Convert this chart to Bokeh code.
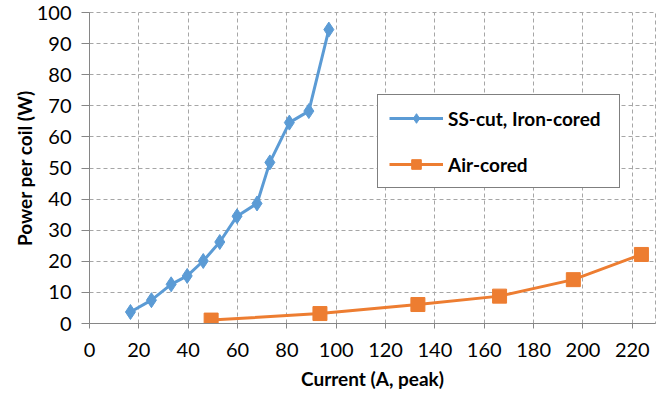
from bokeh.plotting import figure
from bokeh.models import Range1d, FixedTicker, Legend, LegendItem
from bokeh.embed import file_html
from bokeh.resources import INLINE

# Data
iron_x = [16.6, 25.1, 33.1, 39.6, 46.1, 52.8, 59.8, 67.9, 73.1, 81.0, 88.9, 97.0]
iron_y = [3.7, 7.5, 12.6, 15.3, 20.1, 26.2, 34.5, 38.6, 51.8, 64.6, 68.3, 94.5]
air_x = [49.3, 93.4, 133.1, 166.2, 196.1, 223.7]
air_y = [1.1, 3.2, 6.1, 8.8, 14.1, 22.2]
x_ticks = list(range(0, 221, 20))
y_ticks = list(range(0, 101, 10))
series_names = ["SS-cut, Iron-cored", "Air-cored"]

BLUE = "#5B9BD5"
ORANGE = "#ED7D31"
FONT = "Lato"

p = figure(width=656, height=392, output_backend="svg", toolbar_location=None,
           x_range=Range1d(0, 229.4), y_range=Range1d(0, 100),
           min_border_left=89, min_border_right=1, min_border_top=12, min_border_bottom=69)

p.outline_line_color = "#a6a6a6"
p.outline_line_dash = "4 3"

for ax in (p.xaxis[0], p.yaxis[0]):
    ax.axis_line_color = "#868686"
    ax.major_tick_line_color = "#868686"
    ax.minor_tick_line_color = None
    ax.major_tick_in = 0
    ax.major_label_text_font = FONT
    ax.major_label_text_font_size = "20px"
    ax.major_label_text_color = "#000000"
    ax.axis_label_text_font = FONT
    ax.axis_label_text_font_size = "19px"
    ax.axis_label_text_font_style = "bold"
    ax.axis_label_text_color = "#000000"

p.xaxis.ticker = FixedTicker(ticks=x_ticks)
p.yaxis.ticker = FixedTicker(ticks=y_ticks)
p.xaxis.major_tick_out = 5
p.yaxis.major_tick_out = 8
p.xaxis.major_label_standoff = 14
p.yaxis.major_label_standoff = 10
p.xaxis.axis_label = "Current (A, peak)"
p.yaxis.axis_label = "Power per coil (W)"
p.xaxis.axis_label_standoff = 7
p.yaxis.axis_label_standoff = -2

for g in (p.xgrid[0], p.ygrid[0]):
    g.grid_line_color = "#a6a6a6"
    g.grid_line_dash = "4 3"
    g.grid_line_width = 1
p.xgrid.ticker = FixedTicker(ticks=x_ticks)
p.ygrid.ticker = FixedTicker(ticks=y_ticks)

l1 = p.line(iron_x, iron_y, line_color=BLUE, line_width=3)
m1 = p.scatter(iron_x, iron_y, marker="diamond", size=15, fill_color=BLUE, line_color=BLUE)
l2 = p.line(air_x, air_y, line_color=ORANGE, line_width=3)
m2 = p.scatter(air_x, air_y, marker="square", size=14, fill_color=ORANGE, line_color=ORANGE)

legend = Legend(items=[LegendItem(label=series_names[0], renderers=[l1, m1]),
                       LegendItem(label=series_names[1], renderers=[l2, m2])],
                location=(288, 135))
legend.label_text_font = FONT
legend.label_text_font_size = "19px"
legend.label_text_font_style = "bold"
legend.label_text_color = "#000000"
legend.border_line_color = "#000000"
legend.border_line_width = 1.5
legend.background_fill_color = "white"
legend.background_fill_alpha = 1
legend.glyph_width = 54
legend.glyph_height = 24
legend.label_height = 24
legend.spacing = 22
legend.padding = 11
legend.margin = 0
legend.label_standoff = 5
legend.label_width = 160
p.add_layout(legend)

open("out.html", "w").write(file_html(p, INLINE))
